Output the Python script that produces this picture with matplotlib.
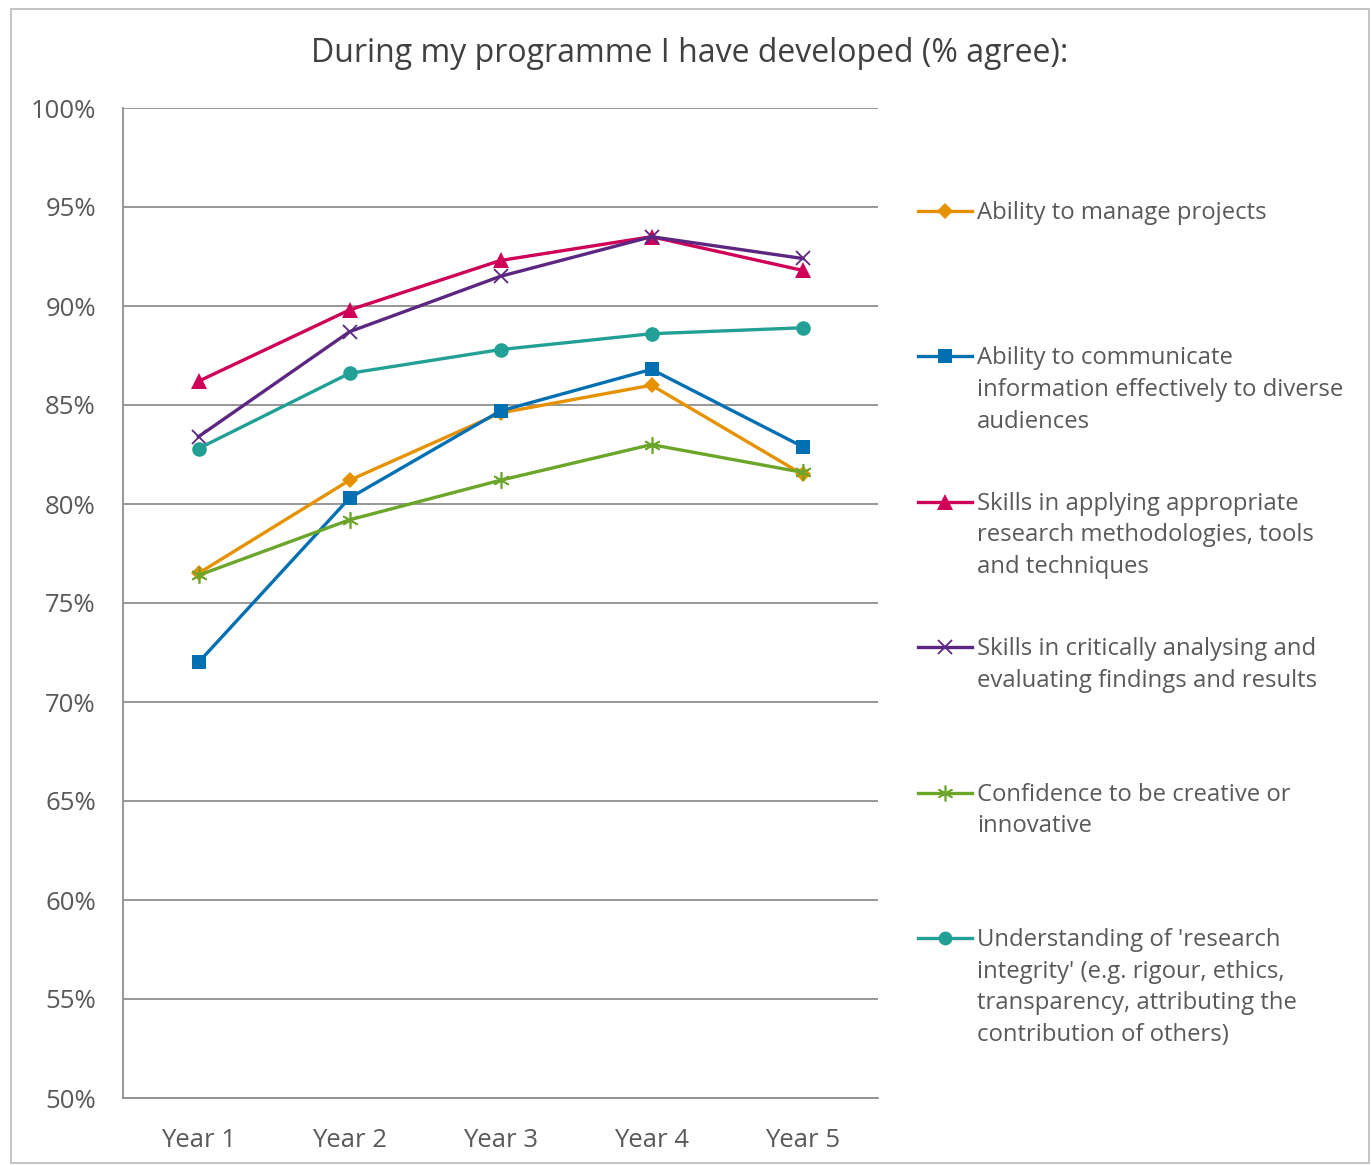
import matplotlib
matplotlib.use("Agg")
import matplotlib.pyplot as plt
from matplotlib.lines import Line2D
from matplotlib.patches import Rectangle
from matplotlib.ticker import FuncFormatter, MultipleLocator

plt.rcParams["font.family"] = ["Open Sans", "DejaVu Sans"]

years = ["Year 1", "Year 2", "Year 3", "Year 4", "Year 5"]

manage_projects = [76.5, 81.2, 84.6, 86.0, 81.5]
communicate_info = [72.0, 80.3, 84.7, 86.8, 82.9]
research_methods = [86.2, 89.8, 92.3, 93.5, 91.8]
critical_analysis = [83.4, 88.7, 91.5, 93.5, 92.4]
creative_confidence = [76.4, 79.2, 81.2, 83.0, 81.6]
research_integrity = [82.8, 86.6, 87.8, 88.6, 88.9]

labels = [
    "Ability to manage projects",
    "Ability to communicate\ninformation effectively to diverse\naudiences",
    "Skills in applying appropriate\nresearch methodologies, tools\nand techniques",
    "Skills in critically analysing and\nevaluating findings and results",
    "Confidence to be creative or\ninnovative",
    "Understanding of 'research\nintegrity' (e.g. rigour, ethics,\ntransparency, attributing the\ncontribution of others)",
]

series = [manage_projects, communicate_info, research_methods,
          critical_analysis, creative_confidence, research_integrity]

styles = [
    dict(color="#E69200", marker="D", ms=8.5, mew=0),
    dict(color="#0070B3", marker="s", ms=10.5, mew=0),
    dict(color="#CF0057", marker="^", ms=11.5, mew=0),
    dict(color="#5C2780", marker="x", ms=10.5, mew=1.3),
    dict(color="#6BA52A", marker=(6, 2, 0), ms=12, mew=1.2),
    dict(color="#23A095", marker="o", ms=10.5, mew=0),
]

W, H = 1371, 1165
fig = plt.figure(figsize=(W / 100, H / 100), dpi=100)

# outer chart frame
fig.add_artist(Rectangle((11 / W, 1 - 1163 / H), (1369 - 11) / W, (1163 - 9) / H,
                         transform=fig.transFigure, fill=False,
                         edgecolor="#BFBFBF", linewidth=1.3))

ax = fig.add_axes([123 / W, 1 - 1098 / H, (878 - 123) / W, (1098 - 108) / H])

x = list(range(len(years)))
for vals, st in zip(series, styles):
    ax.plot(x, vals, color=st["color"], linewidth=2.4, marker=st["marker"],
            markersize=st["ms"], markeredgewidth=st["mew"],
            markeredgecolor=st["color"], markerfacecolor=st["color"],
            clip_on=False)

ax.set_xlim(-0.5, len(years) - 0.5)
ax.set_ylim(50, 100)
ax.yaxis.set_major_locator(MultipleLocator(5))
ax.yaxis.set_major_formatter(FuncFormatter(lambda v, p: f"{v:.0f}%"))
ax.set_xticks(x)
ax.set_xticklabels(years)
ax.grid(axis="y", color="#8F8F8F", linewidth=1.3)
ax.set_axisbelow(True)
for side in ("top", "right"):
    ax.spines[side].set_visible(False)
for side in ("left", "bottom"):
    ax.spines[side].set_color("#8F8F8F")
    ax.spines[side].set_linewidth(1.3)
ax.tick_params(axis="both", length=0, labelsize=18.5, labelcolor="#595959")
ax.tick_params(axis="y", pad=19.5)
ax.tick_params(axis="x", pad=21.5)

fig.text(690 / W, 1 - 54 / H, "During my programme I have developed (% agree):",
         ha="center", va="center", fontsize=23, color="#404040")

# legend entries, evenly spaced down the right side
first_y = 211
step = 145.4
for i, (lab, st) in enumerate(zip(labels, styles)):
    yc = first_y + i * step
    yf = 1 - yc / H
    fig.add_artist(Line2D([918 / W, 972 / W], [yf, yf], transform=fig.transFigure,
                          color=st["color"], linewidth=2.4))
    fig.add_artist(Line2D([945 / W], [yf], transform=fig.transFigure,
                          color=st["color"], marker=st["marker"],
                          markersize=st["ms"] * 0.95, markeredgewidth=st["mew"],
                          markeredgecolor=st["color"], markerfacecolor=st["color"]))
    fig.text(977 / W, 1 - (yc - 10) / H, lab, ha="left", va="top",
             fontsize=17.2, color="#595959", linespacing=1.42)

fig.savefig("out.png", dpi=100, facecolor="white")
